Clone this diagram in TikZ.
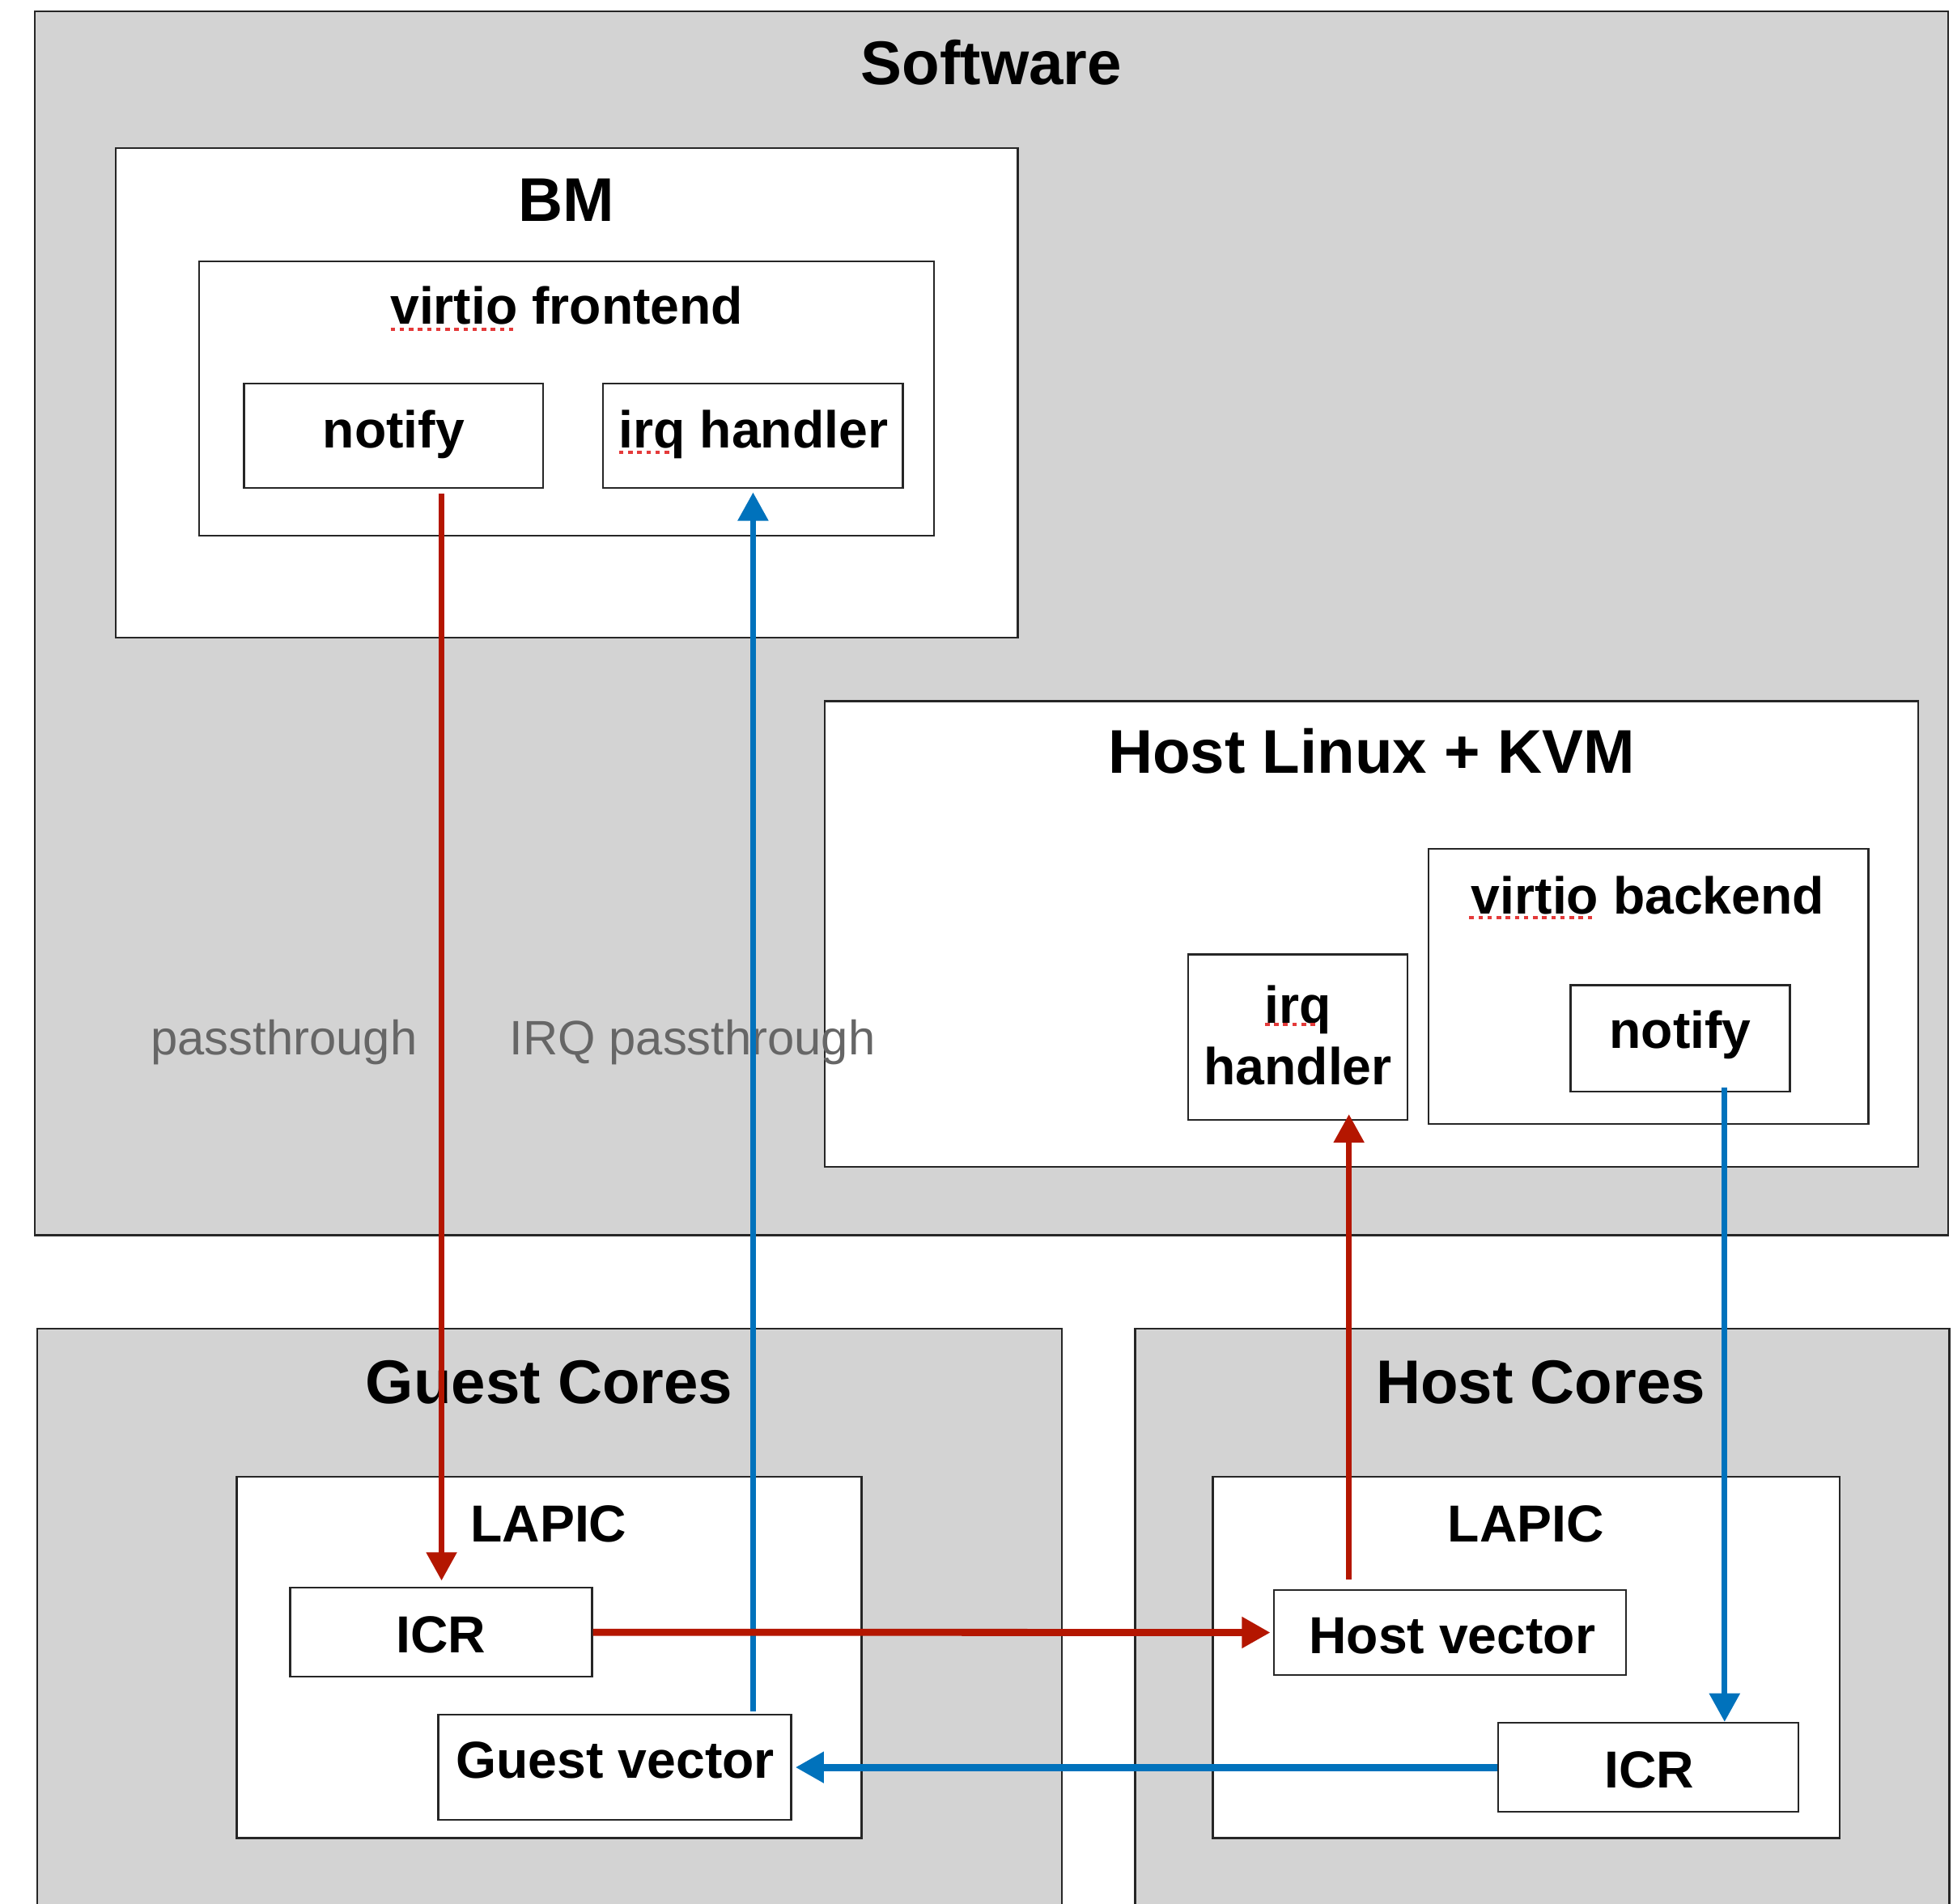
\documentclass[tikz,border=0pt]{standalone}
\usepackage{fontspec}
\setmainfont{Liberation Sans}
\usetikzlibrary{arrows.meta,fit}

\definecolor{panelgray}{RGB}{211,211,211}
\definecolor{flowred}{RGB}{180,22,0}
\definecolor{flowblue}{RGB}{0,114,188}
\definecolor{notegray}{RGB}{102,102,102}
\definecolor{spellred}{RGB}{228,58,58}

\begin{document}
\begin{tikzpicture}[x=0.15389mm,y=-0.15389mm,
  panelbox/.style={draw=black!85,line width=0.7pt,fill=panelgray,inner sep=0pt},
  whitebox/.style={draw=black!85,line width=0.7pt,fill=white,inner sep=0pt},
  bigtitle/.style={font=\fontsize{21.7}{25}\selectfont\bfseries,anchor=base,inner sep=0pt},
  boxtext/.style={font=\fontsize{18.3}{21}\selectfont\bfseries,anchor=base,inner sep=0pt},
  notetext/.style={font=\fontsize{17}{20}\selectfont,text=notegray,anchor=base,inner sep=0pt},
  headtip/.style={-{Triangle[width=10.4pt,length=10pt]}},
  redv/.style={draw=flowred,line width=2pt,headtip,color=flowred},
  blued/.style={draw=flowblue,line width=2pt,headtip,color=flowblue},
  redh/.style={draw=flowred,line width=2.5pt,headtip,color=flowred},
  blueh/.style={draw=flowblue,line width=2.5pt,headtip,color=flowblue},
  spellmark/.style={draw=spellred,line width=1.2pt,dash pattern=on 1.6pt off 1.6pt}
]
\useasboundingbox (0,0) rectangle (1568,1529);
\fill[white] (0,0) rectangle (1568,1529);
\clip (0,0) rectangle (1568,1529);

% ---- software layer ----
\node[panelbox,fit={(28,9) (1564,992)}] (sw) {};
\node[bigtitle] (swT) at (796,68) {Software};

% bare-metal guest
\node[whitebox,fit={(93,119) (817,512)}] (bm) {};
\node[bigtitle] (bmT) at (455,177.5) {BM};
\node[whitebox,fit={(160,210) (750,430)}] (vfe) {};
\node[boxtext] (vfeT) at (455,260) {virtio frontend};
\node[whitebox,fit={(196,308) (436,392)}] (notifyA) {};
\node[boxtext] (notifyAT) at (316,359.5) {notify};
\node[whitebox,fit={(484,308) (725,392)}] (irqA) {};
\node[boxtext] (irqAT) at (605,359.5) {irq handler};

% host kernel
\node[whitebox,fit={(662,563) (1540,937)}] (hlk) {};
\node[bigtitle] (hlkT) at (1101,621) {Host Linux + KVM};
\node[whitebox,fit={(1147,681.5) (1500,902.5)}] (vbe) {};
\node[boxtext] (vbeT) at (1323,734) {virtio backend};
\node[whitebox,fit={(1261,791) (1437,876.5)}] (notifyB) {};
\node[boxtext] (notifyBT) at (1349,842) {notify};
\node[whitebox,fit={(954,766.5) (1130,899.5)}] (irqB) {};
\node[boxtext] (irqBTa) at (1042,822) {irq};
\node[boxtext] (irqBTb) at (1042,871) {handler};

% spell-check marks
\draw[spellmark] (313.6,264.6) -- (412.7,264.6);
\draw[spellmark] (497,363) -- (537.5,363);
\draw[spellmark] (1179.6,736.8) -- (1279,736.8);
\draw[spellmark] (1015.6,822.7) -- (1058,822.7);

% ---- hardware layer ----
\node[panelbox,fit={(30,1067) (852.5,1545)}] (gc) {};
\node[bigtitle] (gcT) at (441,1127) {Guest Cores};
\node[whitebox,fit={(190,1186) (691.7,1476)}] (lapG) {};
\node[boxtext] (lapGT) at (440.5,1238) {LAPIC};
\node[whitebox,fit={(233,1275) (475.3,1346.5)}] (icrG) {};
\node[boxtext] (icrGT) at (354,1327) {ICR};
\node[whitebox,fit={(352,1377) (635.2,1461.5)}] (gvec) {};
\node[boxtext] (gvecT) at (494,1428) {Guest vector};

\node[panelbox,fit={(911.4,1067) (1565,1545)}] (hc) {};
\node[bigtitle] (hcT) at (1237,1127) {Host Cores};
\node[whitebox,fit={(973.8,1186) (1477,1476)}] (lapH) {};
\node[boxtext] (lapHT) at (1225,1238) {LAPIC};
\node[whitebox,fit={(1022.7,1277) (1305.6,1345)}] (hvec) {};
\node[boxtext] (hvecT) at (1166,1328) {Host vector};
\node[whitebox,fit={(1202.8,1383.5) (1444,1455)}] (icrH) {};
\node[boxtext] (icrHT) at (1324,1435.5) {ICR};

% ---- annotations ----
\node[notetext] (ptA) at (228,847) {passthrough};
\node[notetext] (ptB) at (556,847) {IRQ passthrough};

% ---- interrupt flows ----
\coordinate (xa) at (354.5,0);
\coordinate (xb) at (604.6,0);
\coordinate (xc) at (1083,0);
\coordinate (xd) at (1384.6,0);

\draw[redv,shorten <=0.6mm,shorten >=0.75mm] (notifyA.south -| xa) -- (icrG.north -| xa);
\draw[blued,shorten <=0.3mm,shorten >=0.4mm] (gvec.north -| xb) -- (irqA.south -| xb);
\draw[redh,shorten >=0.3mm] (icrG.east) -- (hvec.west);
\draw[redv,shorten <=1.2mm,shorten >=-0.85mm] (hvec.north -| xc) -- (irqB.south -| xc);
\draw[blued,shorten <=-0.6mm] (notifyB.south -| xd) -- (icrH.north -| xd);
\draw[blueh,shorten >=0.4mm] (icrH.west) -- (gvec.east);
\end{tikzpicture}
\end{document}
